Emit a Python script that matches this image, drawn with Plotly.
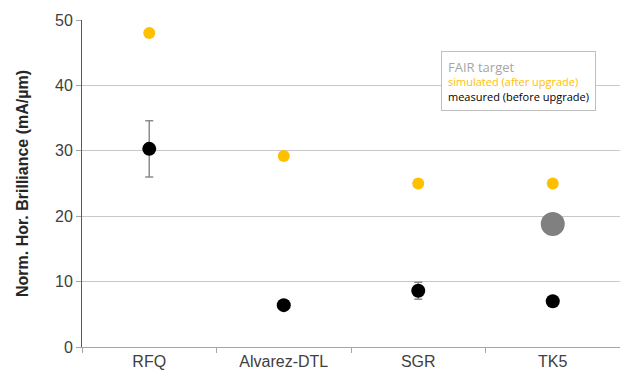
import plotly.graph_objects as go

categories = ["RFQ", "Alvarez-DTL", "SGR", "TK5"]
simulated = [48.0, 29.2, 25.0, 25.0]
measured = [30.3, 6.4, 8.6, 7.0]
measured_err = [4.3, 0.5, 1.3, 0.7]
fair_cat = ["TK5"]
fair_target = [18.8]
y_ticks = [0, 10, 20, 30, 40, 50]

fig = go.Figure()
fig.add_trace(go.Scatter(
    x=categories, y=simulated, mode="markers",
    marker=dict(color="#FFC000", size=12, line=dict(width=0)),
    name="simulated (after upgrade)", showlegend=False))
fig.add_trace(go.Scatter(
    x=categories, y=measured, mode="markers",
    marker=dict(color="#000000", size=14, line=dict(width=0)),
    error_y=dict(type="data", array=measured_err, visible=True,
                 color="#8c8c8c", thickness=1.5, width=4),
    name="measured (before upgrade)", showlegend=False))
fig.add_trace(go.Scatter(
    x=fair_cat, y=fair_target, mode="markers",
    marker=dict(color="#808080", size=24, line=dict(width=0)),
    name="FAIR target", showlegend=False))

fig.add_annotation(
    xref="paper", yref="paper", x=0.667, y=0.905, xanchor="left", yanchor="top",
    text=("<span style='color:#A6A6A6;font-size:13px'>FAIR target</span><br>"
          "<span style='color:#FFC000'>simulated (after upgrade)</span><br>"
          "<span style='color:#000000'>measured (before upgrade)</span>"),
    align="left", showarrow=False,
    font=dict(family="Open Sans, Noto Sans, sans-serif", size=11, color="#000"),
    bordercolor="#BFBFBF", borderwidth=1, borderpad=6, bgcolor="white")

fig.update_layout(
    width=620, height=372,
    margin=dict(l=82, r=0, t=20, b=25),
    plot_bgcolor="white", paper_bgcolor="white",
    font=dict(family="Liberation Sans, Arial, sans-serif", size=14, color="#404040"),
    xaxis=dict(
        type="category", range=[-0.5, 3.5],
        showline=True, linecolor="#A6A6A6", linewidth=1,
        ticks="outside", tickson="boundaries", ticklen=5, tickcolor="#A6A6A6",
        showgrid=False, tickfont=dict(size=16, color="#404040")),
    yaxis=dict(
        range=[0, 50], tickvals=y_ticks,
        showline=True, linecolor="#595959", linewidth=1,
        ticks="outside", ticklen=5, tickcolor="#A6A6A6",
        showgrid=True, gridcolor="#C8C8C8", gridwidth=1,
        zeroline=False,
        tickfont=dict(size=16, color="#404040"),
        title=dict(text="<b>Norm. Hor. Brilliance (mA/µm)</b>",
                   font=dict(size=16, color="#262626"), standoff=22)),
)

fig.write_html("out.html")
